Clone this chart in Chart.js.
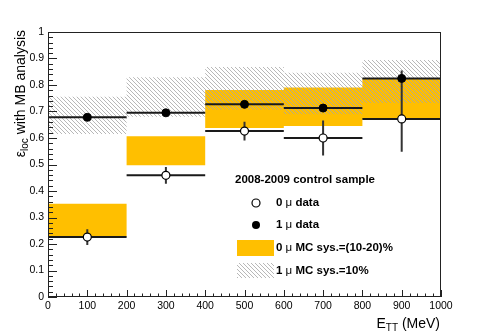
<!DOCTYPE html>
<html>
<head>
<meta charset="utf-8">
<script src="https://cdn.jsdelivr.net/npm/chart.js@4.4.1/dist/chart.umd.min.js"></script>
<style>
  html, body { margin: 0; padding: 0; background: #fff; }
  canvas { display: block; }
</style>
</head>
<body>
<canvas id="chart" width="491" height="332"></canvas>
<script>
// bins in E_TT (MeV)
const binEdges = [0, 200, 400, 600, 800, 1000];
const binCenters = [100, 300, 500, 700, 900];

// measured efficiencies
const data0mu = [0.226, 0.459, 0.626, 0.600, 0.672];
const err0mu = [0.030, 0.032, 0.035, 0.066, 0.124];
const data1mu = [0.678, 0.695, 0.727, 0.713, 0.825];
const err1mu = [0.012, 0.012, 0.012, 0.014, 0.030];

// MC systematic bands
const mc0Low = [0.228, 0.497, 0.638, 0.645, 0.671];
const mc0High = [0.352, 0.607, 0.781, 0.791, 0.825];
const mc1Low = [0.615, 0.680, 0.707, 0.690, 0.732];
const mc1High = [0.756, 0.829, 0.868, 0.846, 0.894];

const xTickValues = [0, 100, 200, 300, 400, 500, 600, 700, 800, 900, 1000];
const yTickValues = [0, 0.1, 0.2, 0.3, 0.4, 0.5, 0.6, 0.7, 0.8, 0.9, 1];

const FONT = "'Liberation Sans', Arial, Helvetica, sans-serif";
const ORANGE = '#ffbf00';

// diagonal hatch for the 1 mu MC band
function makeHatch() {
  const c = document.createElement('canvas');
  c.width = 4; c.height = 4;
  const g = c.getContext('2d');
  g.strokeStyle = '#a6a6a6';
  g.lineWidth = 0.8;
  g.beginPath();
  g.moveTo(-1, -1); g.lineTo(5, 5);
  g.moveTo(-1, 3); g.lineTo(1, 5);
  g.moveTo(3, -1); g.lineTo(5, 1);
  g.stroke();
  return g.createPattern(c, 'repeat');
}
const hatch = makeHatch();

// step outline: value of bin i holds from edge i to edge i+1
function stepPoints(vals) {
  return binEdges.map((x, i) => ({ x: x, y: vals[Math.min(i, vals.length - 1)] }));
}
// horizontal bars across each bin, broken by null points
function binSegments(vals) {
  const pts = [];
  vals.forEach((v, i) => {
    pts.push({ x: binEdges[i], y: v }, { x: binEdges[i + 1], y: v }, { x: binEdges[i + 1], y: null });
  });
  return pts;
}
// vertical error bars
function errSegments(vals, errs) {
  const pts = [];
  vals.forEach((v, i) => {
    pts.push({ x: binCenters[i], y: v - errs[i] }, { x: binCenters[i], y: v + errs[i] }, { x: binCenters[i], y: null });
  });
  return pts;
}
function markers(vals) {
  return vals.map((v, i) => ({ x: binCenters[i], y: v }));
}

const hidden = 'rgba(0,0,0,0)';
const bandBase = { type: 'line', stepped: true, pointRadius: 0, borderColor: hidden, borderWidth: 1 };
const lineBase = { type: 'line', pointRadius: 0, borderColor: '#1a1a1a', borderWidth: 2, spanGaps: false, fill: false };

// text with sub-scripts drawn as runs
function drawRuns(ctx, x, y, runs, align) {
  let total = 0;
  runs.forEach(r => { ctx.font = r.font; total += ctx.measureText(r.text).width; });
  let cx = align === 'right' ? x - total : x;
  runs.forEach(r => {
    ctx.font = r.font;
    ctx.fillText(r.text, cx, y + (r.dy || 0));
    cx += ctx.measureText(r.text).width;
  });
}

const framePlugin = {
  id: 'frame',
  afterDatasetsDraw(chart) {
    const { ctx, chartArea: a, scales: { x, y } } = chart;
    ctx.save();
    ctx.strokeStyle = '#222';
    ctx.lineWidth = 1;
    ctx.strokeRect(a.left + 0.5, a.top + 0.5, a.right - a.left - 1, a.bottom - a.top - 1);
    ctx.beginPath();
    // y ticks on the left, inside
    for (let k = 0; k <= 50; k++) {
      const py = Math.round(y.getPixelForValue(k * 0.02)) + 0.5;
      const len = k % 5 === 0 ? 9 : 5;
      ctx.moveTo(a.left, py); ctx.lineTo(a.left + len, py);
    }
    // x ticks on the bottom, inside
    for (let k = 0; k <= 50; k++) {
      const px = Math.round(x.getPixelForValue(k * 20)) + 0.5;
      const len = k % 5 === 0 ? 7 : 3.5;
      ctx.moveTo(px, a.bottom); ctx.lineTo(px, a.bottom - len);
    }
    ctx.stroke();
    ctx.restore();
  },
  afterDraw(chart) {
    const { ctx, chartArea: a } = chart;
    ctx.save();
    ctx.fillStyle = '#000';
    ctx.textBaseline = 'alphabetic';

    // axis titles
    const big = '14px ' + FONT, small = '10px ' + FONT;
    drawRuns(ctx, a.right - 1, 328, [
      { text: 'E', font: big }, { text: 'TT', font: small, dy: 3 }, { text: ' (MeV)', font: big }
    ], 'right');
    ctx.save();
    ctx.translate(25, a.top - 2);
    ctx.rotate(-Math.PI / 2);
    drawRuns(ctx, 0, 0, [
      { text: 'ε', font: big }, { text: 'loc', font: small, dy: 3 }, { text: ' with MB analysis', font: big }
    ], 'right');
    ctx.restore();

    // legend
    const bold = 'bold 11.5px ' + FONT, reg = '11.5px ' + FONT;
    ctx.textBaseline = 'middle';
    ctx.font = bold;
    ctx.fillText('2008-2009 control sample', 235, 180);

    ctx.lineWidth = 1.2;
    ctx.strokeStyle = '#000';
    ctx.beginPath(); ctx.arc(256, 203, 4, 0, Math.PI * 2);
    ctx.fillStyle = '#fff'; ctx.fill(); ctx.stroke();
    ctx.beginPath(); ctx.arc(256, 225, 4, 0, Math.PI * 2);
    ctx.fillStyle = '#000'; ctx.fill();

    ctx.fillStyle = ORANGE;
    ctx.fillRect(237, 240, 37, 16);
    ctx.fillStyle = hatch;
    ctx.fillRect(237, 263, 37, 15);

    ctx.fillStyle = '#000';
    drawRuns(ctx, 276, 203, [{ text: '0 ', font: bold }, { text: 'μ', font: reg }, { text: ' data', font: bold }]);
    drawRuns(ctx, 276, 225, [{ text: '1 ', font: bold }, { text: 'μ', font: reg }, { text: ' data', font: bold }]);
    drawRuns(ctx, 276, 248, [{ text: '0 ', font: bold }, { text: 'μ', font: reg }, { text: ' MC sys.=(10-20)%', font: bold }]);
    drawRuns(ctx, 276, 271, [{ text: '1 ', font: bold }, { text: 'μ', font: reg }, { text: ' MC sys.=10%', font: bold }]);
    ctx.restore();
  }
};

new Chart(document.getElementById('chart'), {
  type: 'line',
  data: {
    datasets: [
      Object.assign({}, bandBase, { label: 'mc1 low', data: stepPoints(mc1Low), fill: false, order: 9 }),
      Object.assign({}, bandBase, { label: '1 mu MC sys.=10%', data: stepPoints(mc1High), fill: '-1', backgroundColor: hatch, order: 9 }),
      Object.assign({}, bandBase, { label: 'mc0 low', data: stepPoints(mc0Low), fill: false, order: 10 }),
      Object.assign({}, bandBase, { label: '0 mu MC sys.=(10-20)%', data: stepPoints(mc0High), fill: '-1', backgroundColor: ORANGE, order: 10 }),
      Object.assign({}, lineBase, { label: '0 mu x', data: binSegments(data0mu), order: 5 }),
      Object.assign({}, lineBase, { label: '0 mu y', data: errSegments(data0mu, err0mu), borderColor: '#333', order: 5 }),
      Object.assign({}, lineBase, { label: '1 mu x', data: binSegments(data1mu), order: 4 }),
      Object.assign({}, lineBase, { label: '1 mu y', data: errSegments(data1mu, err1mu), borderColor: '#333', order: 4 }),
      { type: 'line', label: '0 mu data', data: markers(data0mu), showLine: false, pointStyle: 'circle',
        pointRadius: 4, pointBackgroundColor: '#fff', pointBorderColor: '#000', pointBorderWidth: 1.2, order: 2 },
      { type: 'line', label: '1 mu data', data: markers(data1mu), showLine: false, pointStyle: 'circle',
        pointRadius: 4, pointBackgroundColor: '#000', pointBorderColor: '#000', pointBorderWidth: 1, order: 1 }
    ]
  },
  options: {
    responsive: false,
    devicePixelRatio: 1,
    animation: false,
    events: [],
    layout: { padding: { left: 0, top: 32, right: 50, bottom: 0 } },
    plugins: { legend: { display: false }, tooltip: { enabled: false } },
    scales: {
      x: {
        type: 'linear', min: 0, max: 1000,
        afterBuildTicks: s => { s.ticks = xTickValues.map(v => ({ value: v })); },
        afterFit: s => { s.height = 35; },
        grid: { display: false, drawTicks: false },
        border: { display: false },
        ticks: { color: '#000', font: { family: FONT, size: 10.5 }, padding: 3, maxRotation: 0, autoSkip: false,
          callback: v => String(v) }
      },
      y: {
        type: 'linear', min: 0, max: 1,
        afterBuildTicks: s => { s.ticks = yTickValues.map(v => ({ value: v })); },
        afterFit: s => { s.width = 48; },
        grid: { display: false, drawTicks: false },
        border: { display: false },
        ticks: { color: '#000', font: { family: FONT, size: 10.5 }, padding: 4, autoSkip: false,
          callback: v => String(Math.round(v * 10) / 10) }
      }
    }
  },
  plugins: [framePlugin]
});
</script>
</body>
</html>
